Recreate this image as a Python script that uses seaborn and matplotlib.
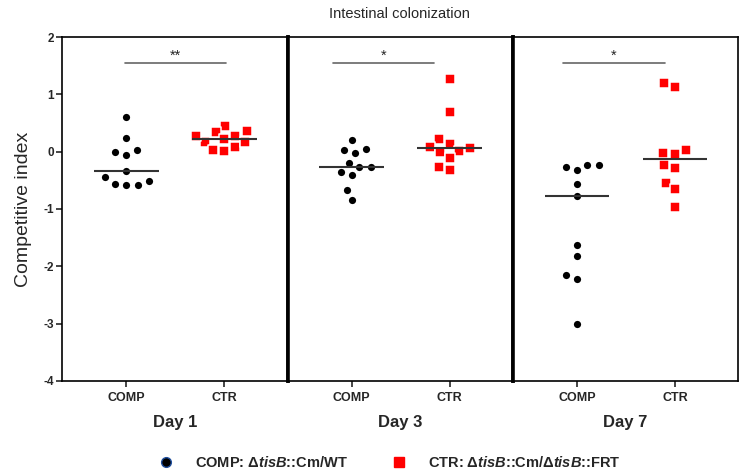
import pandas as pd
import matplotlib.pyplot as plt
import seaborn as sb
from matplotlib.lines import Line2D

days = ['Day 1', 'Day 3', 'Day 7']
groups = ['COMP', 'CTR']
stars = ['**', '*', '*']

comp_day1 = [0.60, 0.24, 0.03, -0.05, -0.01, -0.33, -0.45, -0.58, -0.52, -0.58, -0.56]
ctr_day1 = [0.45, 0.28, 0.35, 0.17, 0.02, 0.225, 0.08, 0.36, 0.17, 0.03, 0.28]
comp_day3 = [0.20, 0.03, 0.045, -0.025, -0.19, -0.26, -0.27, -0.35, -0.415, -0.665, -0.845]
ctr_day3 = [1.27, 0.685, 0.23, 0.14, 0.085, -0.01, 0.015, 0.06, -0.105, -0.26, -0.315]
comp_day7 = [-0.27, -0.32, -0.23, -0.23, -0.565, -0.78, -1.625, -1.82, -2.155, -2.22, -3.0]
ctr_day7 = [1.20, 1.13, -0.025, -0.035, 0.03, -0.23, -0.28, -0.54, -0.66, -0.97]

comp_all = [comp_day1, comp_day3, comp_day7]
ctr_all = [ctr_day1, ctr_day3, ctr_day7]

sb.set_style('ticks')
plt.rcParams['font.family'] = ['Liberation Sans', 'DejaVu Sans']
plt.rcParams['axes.unicode_minus'] = False
plt.rcParams['mathtext.fontset'] = 'custom'
plt.rcParams['mathtext.it'] = 'Liberation Sans:italic:bold'
plt.rcParams['mathtext.rm'] = 'Liberation Sans:bold'

fig, axes = plt.subplots(1, 3, figsize=(7.5, 4.76), dpi=100, sharey=True)
fig.subplots_adjust(left=0.083, right=0.984, top=0.922, bottom=0.2, wspace=0)

sig_x = [(-0.01, 1.02), (-0.19, 0.84), (-0.14, 0.9)]

for i, ax in enumerate(axes):
    comp = pd.DataFrame({'group': 'COMP', 'value': comp_all[i]})
    ctr = pd.DataFrame({'group': 'CTR', 'value': ctr_all[i]})
    sb.swarmplot(data=comp, x='group', y='value', order=groups, ax=ax, color='black',
                 marker='o', size=6.6, linewidth=1.4, edgecolor='white')
    sb.swarmplot(data=ctr, x='group', y='value', order=groups, ax=ax, color='#ff0000',
                 marker='s', size=6.8, linewidth=1.1, edgecolor='white')
    # median lines
    for j, d in enumerate([comp, ctr]):
        ax.hlines(d['value'].median(), j - 0.33, j + 0.33, color='#333333', lw=1.5, zorder=5)
    # significance bar
    ax.plot(sig_x[i], [1.557, 1.557], color='#666666', lw=1.2)
    ax.text(sum(sig_x[i]) / 2, 1.68, stars[i], ha='center', va='center', fontsize=10.5)

    ax.set_xlim(-0.655, 1.645)
    ax.set_ylim(-4, 2)
    ax.set_xlabel(days[i], fontsize=12, fontweight='bold', labelpad=8)
    ax.set_ylabel('')
    ax.tick_params(axis='x', direction='out', length=4, width=1.2, pad=4)
    for lab in ax.get_xticklabels():
        lab.set_fontsize(9)
        lab.set_fontweight('bold')
    for sp in ax.spines.values():
        sp.set_visible(True)
        sp.set_color('black')
        sp.set_linewidth(1.2)
    if i > 0:
        ax.spines['left'].set_linewidth(2.6)
        ax.tick_params(axis='y', left=False)
    if i < 2:
        ax.spines['right'].set_linewidth(2.6)

axes[0].set_yticks([-4, -3, -2, -1, 0, 1, 2])
axes[0].tick_params(axis='y', direction='out', length=4, width=1.2, pad=2)
for lab in axes[0].get_yticklabels():
    lab.set_fontsize(8.5)
    lab.set_fontweight('bold')
axes[0].set_ylabel('Competitive index', fontsize=14, labelpad=8)

fig.suptitle('Intestinal colonization', x=0.533, y=0.985, va='top', fontsize=10.5)

handles = [
    Line2D([], [], ls='', marker='o', markersize=7, markerfacecolor='black',
           markeredgecolor='#1f4e9c', markeredgewidth=1),
    Line2D([], [], ls='', marker='s', markersize=7.5, markerfacecolor='#ff0000',
           markeredgecolor='#ff0000'),
]
labels = [r'COMP: Δ$\it{tisB}$::Cm/WT', r'CTR: Δ$\it{tisB}$::Cm/Δ$\it{tisB}$::FRT']
fig.legend(handles, labels, loc='center', bbox_to_anchor=(0.515, 0.028), ncol=2,
           frameon=False, prop={'size': 10.5, 'weight': 'bold'}, columnspacing=2.5,
           handletextpad=1.0)

plt.savefig('out.png', dpi=100)
